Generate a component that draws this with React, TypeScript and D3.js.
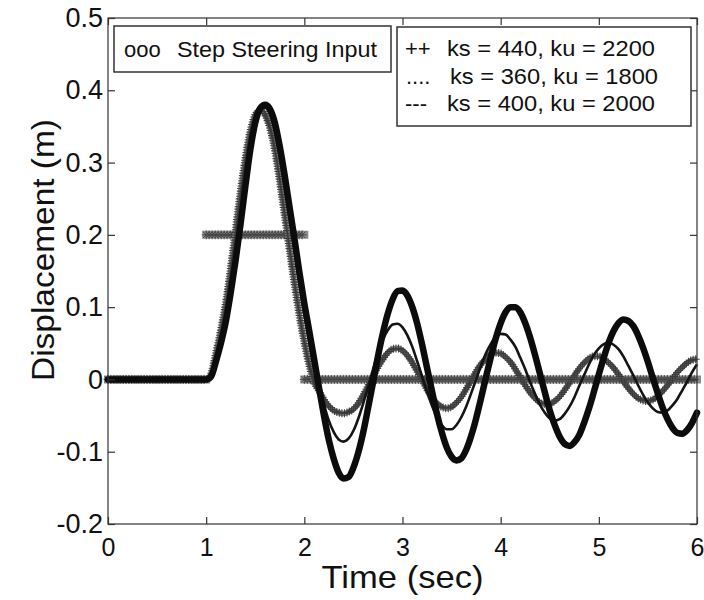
import React, { useEffect, useRef } from "react";
import * as d3 from "d3";

// time grid spacing (s); sample i is at t = i * timeStep, from 0 to 6 s
const timeStep = 0.05;
const zeroLead = [0, 0, 0, 0, 0, 0, 0, 0, 0, 0, 0, 0, 0, 0, 0, 0, 0, 0, 0, 0];

// thick black response
const thickValues = zeroLead.concat([
  0, 0.004, 0.025, 0.05, 0.08, 0.12, 0.165, 0.215, 0.268, 0.318, 0.355, 0.375, 0.38, 0.374, 0.355, 0.322,
  0.282, 0.238, 0.194, 0.148, 0.105, 0.067, 0.028,
  -0.012, -0.05, -0.084, -0.11, -0.129, -0.137, -0.135, -0.122, -0.101, -0.073,
  -0.039, -0.004, 0.032, 0.064, 0.091, 0.111, 0.122, 0.123, 0.116, 0.1,
  0.077, 0.048, 0.016, -0.016, -0.047, -0.073, -0.094, -0.107, -0.112, -0.109,
  -0.097, -0.078, -0.054, -0.026, 0.003, 0.031, 0.057, 0.078, 0.093, 0.1,
  0.1, 0.093, 0.078, 0.058, 0.034, 0.008, -0.018, -0.043, -0.063, -0.079,
  -0.089, -0.092, -0.087, -0.077, -0.06, -0.04, -0.017, 0.007, 0.03, 0.051,
  0.067, 0.078, 0.083, 0.081, 0.074, 0.061, 0.044, 0.024, 0.002, -0.019,
  -0.039, -0.055, -0.067, -0.074, -0.075, -0.07, -0.06, -0.046,
]);

// thin black response
const thinValues = zeroLead.concat([
  0, 0.004, 0.026, 0.052, 0.083, 0.124, 0.17, 0.22, 0.272, 0.32, 0.355, 0.374, 0.376, 0.366, 0.343, 0.308,
  0.266, 0.222, 0.177, 0.132, 0.09, 0.051, 0.016,
  -0.011, -0.035, -0.057, -0.073, -0.083, -0.086, -0.082, -0.071, -0.054, -0.033,
  -0.01, 0.014, 0.036, 0.055, 0.068, 0.076, 0.077, 0.072, 0.061, 0.045,
  0.025, 0.004, -0.017, -0.036, -0.052, -0.063, -0.069, -0.069, -0.063, -0.052,
  -0.037, -0.019, 0, 0.019, 0.036, 0.049, 0.059, 0.063, 0.062, 0.055,
  0.045, 0.03, 0.014, -0.004, -0.02, -0.035, -0.046, -0.054, -0.057, -0.055,
  -0.048, -0.038, -0.025, -0.009, 0.006, 0.021, 0.034, 0.043, 0.049, 0.051,
  0.048, 0.042, 0.032, 0.019, 0.006, -0.008, -0.021, -0.032, -0.04, -0.045,
  -0.046, -0.043, -0.036, -0.027, -0.015, -0.003, 0.01, 0.021,
]);

// "+" marker response
const plusValues = zeroLead.concat([
  0, 0.008, 0.036, 0.068, 0.105, 0.152, 0.205, 0.258, 0.305, 0.343, 0.366, 0.373, 0.366, 0.348, 0.318, 0.275,
  0.228, 0.18, 0.133, 0.09, 0.052, 0.02, -0.004,
  -0.016, -0.028, -0.037, -0.043, -0.046, -0.047, -0.045, -0.041, -0.033, -0.022,
  -0.009, 0.004, 0.017, 0.028, 0.037, 0.042, 0.043, 0.04, 0.033, 0.023,
  0.011, -0.001, -0.014, -0.025, -0.033, -0.038, -0.04, -0.038, -0.032, -0.024,
  -0.013, -0.001, 0.011, 0.021, 0.029, 0.035, 0.037, 0.036, 0.031, 0.024,
  0.014, 0.003, -0.008, -0.018, -0.026, -0.032, -0.034, -0.034, -0.03, -0.024,
  -0.015, -0.005, 0.005, 0.015, 0.023, 0.029, 0.032, 0.032, 0.029, 0.023,
  0.016, 0.007, -0.003, -0.012, -0.02, -0.026, -0.029, -0.03, -0.028, -0.023,
  -0.016, -0.008, 0.001, 0.01, 0.017, 0.023, 0.027, 0.028,
]);

// step steering input: piecewise constant
const stepStarts = [0, 1, 2];
const stepEnds = [1, 2, 6];
const stepLevels = [0, 0.2, 0];

const xTicks = [0, 1, 2, 3, 4, 5, 6];
const xTickLabels = ["0", "1", "2", "3", "4", "5", "6"];
const yTicks = [-0.2, -0.1, 0, 0.1, 0.2, 0.3, 0.4, 0.5];
const yTickLabels = ["-0.2", "-0.1", "0", "0.1", "0.2", "0.3", "0.4", "0.5"];

const inputMarker = "ooo";
const inputLabel = "Step Steering Input";
const legendMarkers = ["++", "....", "---"];
const legendLabels = ["ks = 440, ku = 2200", "ks = 360, ku = 1800", "ks = 400, ku = 2000"];
const xTitle = "Time (sec)";
const yTitle = "Displacement (m)";

export default function App() {
  const ref = useRef<SVGSVGElement | null>(null);

  useEffect(() => {
    const svg = d3.select(ref.current);
    svg.selectAll("*").remove();
    const W = 704, H = 600;
    const L = 108, R = 697, T = 18, B = 524;
    const font = "'Liberation Sans', Arial, Helvetica, sans-serif";
    const x = d3.scaleLinear().domain([0, 6]).range([L, R]);
    const y = d3.scaleLinear().domain([-0.2, 0.5]).range([B, T]);

    svg.append("rect").attr("width", W).attr("height", H).attr("fill", "#fff");

    const toPts = (vals: number[]) => vals.map((v, i) => [i * timeStep, v] as [number, number]);
    const line = d3
      .line<[number, number]>()
      .x((d) => x(d[0]))
      .y((d) => y(d[1]))
      .curve(d3.curveMonotoneX);

    const g = svg.append("g");

    // step input markers
    stepStarts.forEach((s, i) => {
      const x0 = x(s), x1 = x(stepEnds[i]), yy = y(stepLevels[i]);
      g.append("line")
        .attr("x1", x0).attr("x2", x1).attr("y1", yy).attr("y2", yy)
        .attr("stroke", "#8c8c8c").attr("stroke-width", 8).attr("stroke-linecap", "square");
      let d = "";
      const r = 4.5;
      for (let px = x0; px <= x1 + 0.01; px += 3) {
        d += `M${px - r},${yy}h${2 * r}M${px},${yy - r}v${2 * r}`;
        d += `M${px - r * 0.7},${yy - r * 0.7}l${r * 1.4},${r * 1.4}M${px - r * 0.7},${yy + r * 0.7}l${r * 1.4},${-r * 1.4}`;
      }
      g.append("path").attr("d", d).attr("fill", "none").attr("stroke", "#444").attr("stroke-width", 0.9);
    });

    // plus-marker curve
    const plusPath = g.append("path")
      .attr("d", line(toPts(plusValues)) || "")
      .attr("fill", "none").attr("stroke", "#7a7a7a").attr("stroke-width", 5.5)
      .attr("stroke-linejoin", "round");
    const node = plusPath.node() as SVGPathElement;
    const total = node.getTotalLength();
    let pd = "";
    for (let s = 0; s <= total; s += 2.6) {
      const p = node.getPointAtLength(s);
      pd += `M${p.x - 4},${p.y}h8M${p.x},${p.y - 4}v8`;
    }
    g.append("path").attr("d", pd).attr("fill", "none").attr("stroke", "#333").attr("stroke-width", 1.1).attr("opacity", 0.9);

    // thin curve
    g.append("path")
      .attr("d", line(toPts(thinValues)) || "")
      .attr("fill", "none").attr("stroke", "#141414").attr("stroke-width", 2.6)
      .attr("stroke-linejoin", "round");

    // thick curve
    g.append("path")
      .attr("d", line(toPts(thickValues)) || "")
      .attr("fill", "none").attr("stroke", "#0c0c0c").attr("stroke-width", 6.5)
      .attr("stroke-linejoin", "round").attr("stroke-linecap", "round");

    // frame
    svg.append("rect")
      .attr("x", L).attr("y", T).attr("width", R - L).attr("height", B - T)
      .attr("fill", "none").attr("stroke", "#333").attr("stroke-width", 1.2);

    const styleAxis = (sel: any) => {
      sel.select(".domain").remove();
      sel.selectAll(".tick line").attr("stroke", "#333").attr("stroke-width", 1.2);
      sel.selectAll(".tick text").attr("font-family", font).attr("fill", "#111");
    };

    const xAx = svg.append("g").attr("transform", `translate(0,${B})`)
      .call(d3.axisBottom(x).tickValues(xTicks).tickFormat((_d: any, i: number) => xTickLabels[i])
        .tickSizeInner(-7).tickSizeOuter(0).tickPadding(14) as any)
      .call(styleAxis);
    xAx.selectAll(".tick text").attr("font-size", 25);
    const yAx = svg.append("g").attr("transform", `translate(${L},0)`)
      .call(d3.axisLeft(y).tickValues(yTicks).tickFormat((_d: any, i: number) => yTickLabels[i])
        .tickSizeInner(-7).tickSizeOuter(0).tickPadding(5) as any)
      .call(styleAxis);
    yAx.selectAll(".tick text").attr("font-size", 27);
    svg.append("g").attr("transform", `translate(0,${T})`)
      .call(d3.axisTop(x).tickValues(xTicks).tickFormat(() => "").tickSizeInner(-7).tickSizeOuter(0) as any)
      .call(styleAxis);
    svg.append("g").attr("transform", `translate(${R},0)`)
      .call(d3.axisRight(y).tickValues(yTicks).tickFormat(() => "").tickSizeInner(-7).tickSizeOuter(0) as any)
      .call(styleAxis);

    // legends
    const leg = svg.append("g").attr("font-family", font).attr("fill", "#111");
    leg.append("rect").attr("x", 114).attr("y", 26).attr("width", 277).attr("height", 46)
      .attr("fill", "#fff").attr("stroke", "#333").attr("stroke-width", 1.5);
    leg.append("text").attr("x", 124).attr("y", 57).attr("font-size", 22).text(inputMarker);
    leg.append("text").attr("x", 177).attr("y", 57).attr("font-size", 22)
      .attr("textLength", 200).attr("lengthAdjust", "spacingAndGlyphs").text(inputLabel);

    leg.append("rect").attr("x", 397).attr("y", 27).attr("width", 294).attr("height", 99)
      .attr("fill", "#fff").attr("stroke", "#333").attr("stroke-width", 1.5);
    const rowY = [56, 83.5, 111];
    const markX = [405, 406, 405];
    const textX = [447, 450, 447];
    legendLabels.forEach((lab, i) => {
      leg.append("text").attr("x", markX[i]).attr("y", rowY[i]).attr("font-size", 22).text(legendMarkers[i]);
      leg.append("text").attr("x", textX[i]).attr("y", rowY[i]).attr("font-size", 22)
        .attr("textLength", 208).attr("lengthAdjust", "spacingAndGlyphs").text(lab);
    });

    // axis titles
    svg.append("text").attr("x", (L + R) / 2).attr("y", 588).attr("text-anchor", "middle")
      .attr("font-family", font).attr("font-size", 32).attr("fill", "#111")
      .attr("textLength", 162).attr("lengthAdjust", "spacingAndGlyphs").text(xTitle);
    svg.append("text").attr("transform", `translate(54,250) rotate(-90)`).attr("text-anchor", "middle")
      .attr("font-family", font).attr("font-size", 31).attr("fill", "#111")
      .attr("textLength", 262).attr("lengthAdjust", "spacingAndGlyphs").text(yTitle);
  }, []);

  return (
    <svg
      ref={ref}
      width={704}
      height={600}
      style={{ position: "absolute", left: 0, top: 0, display: "block" }}
    />
  );
}
